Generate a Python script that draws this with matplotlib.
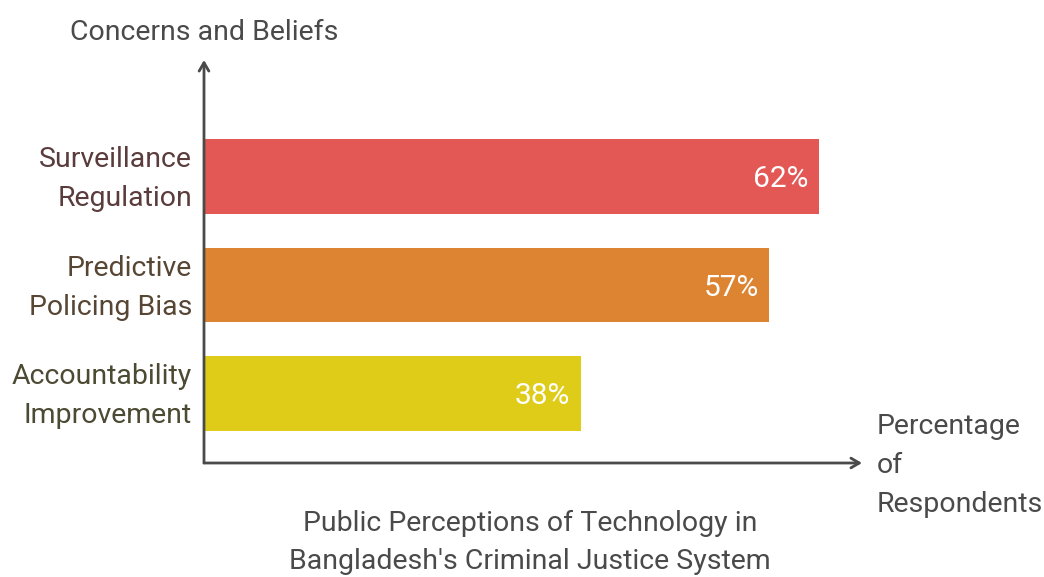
import matplotlib
matplotlib.use("Agg")
import matplotlib.pyplot as plt
from matplotlib.transforms import ScaledTranslation

categories = ["Surveillance\nRegulation", "Predictive\nPolicing Bias", "Accountability\nImprovement"]
values = [62, 57, 38]
value_labels = ["62%", "57%", "38%"]
bar_colors = ["#E35855", "#DD8433", "#DFCC18"]
label_colors = ["#5A3C3C", "#574634", "#4D4A33"]

plt.rcParams["font.family"] = ["Roboto", "DejaVu Sans"]

W, H = 1044, 577
fig = plt.figure(figsize=(W / 100, H / 100), dpi=100)
fig.patch.set_facecolor("white")

# axes frame spans the arrowed axis lines (pixel geometry)
x0, x1 = 204, 862
y_bot, y_top = 463, 60
ax = fig.add_axes([x0 / W, (H - y_bot) / H, (x1 - x0) / W, (y_bot - y_top) / H])
px_per_pct = 9.92
ax.set_xlim(0, (x1 - x0) / px_per_pct)
ax.set_ylim(2.64, -1.074)
ax.axis("off")

FS = 20.5
LS = 1.57
# nudge text down slightly so glyphs sit centred on their anchor
down = ScaledTranslation(0, -2.5 / 100, fig.dpi_scale_trans)

ypos = list(range(len(values)))
ax.barh(ypos, values, height=0.69, color=bar_colors, zorder=2)

for y, v, lab in zip(ypos, values, value_labels):
    ax.text(v - 1.1, y, lab, ha="right", va="center", color="white", fontsize=21.5,
            transform=ax.transData + down)

for y, cat, c in zip(ypos, categories, label_colors):
    ax.text(-1.2, y, cat, ha="right", va="center", color=c, fontsize=FS,
            linespacing=LS, transform=ax.transData + down)

axis_col = "#4A4A4A"
ax.annotate("", xy=(0, -1.074), xytext=(0, 2.64),
            arrowprops=dict(arrowstyle="->,head_length=0.6,head_width=0.35",
                            color=axis_col, lw=2, shrinkA=0, shrinkB=0))
ax.annotate("", xy=((x1 - x0) / px_per_pct, 2.64), xytext=(0, 2.64),
            arrowprops=dict(arrowstyle="->,head_length=0.6,head_width=0.35",
                            color=axis_col, lw=2, shrinkA=0, shrinkB=0))

ftr = fig.transFigure + down
fig.text(70 / W, 1 - 30 / H, "Concerns and Beliefs", ha="left", va="center",
         color="#4A4A4A", fontsize=FS, transform=ftr)
fig.text(877 / W, 1 - 463 / H, "Percentage\nof\nRespondents", ha="left", va="center",
         color="#4A4A4A", fontsize=FS, linespacing=LS, transform=ftr)
fig.text(530 / W, 1 - 540 / H,
         "Public Perceptions of Technology in\nBangladesh's Criminal Justice System",
         ha="center", va="center", color="#4A4A4A", fontsize=FS, linespacing=1.5,
         transform=ftr)

fig.savefig("out.png", dpi=100, facecolor="white")
